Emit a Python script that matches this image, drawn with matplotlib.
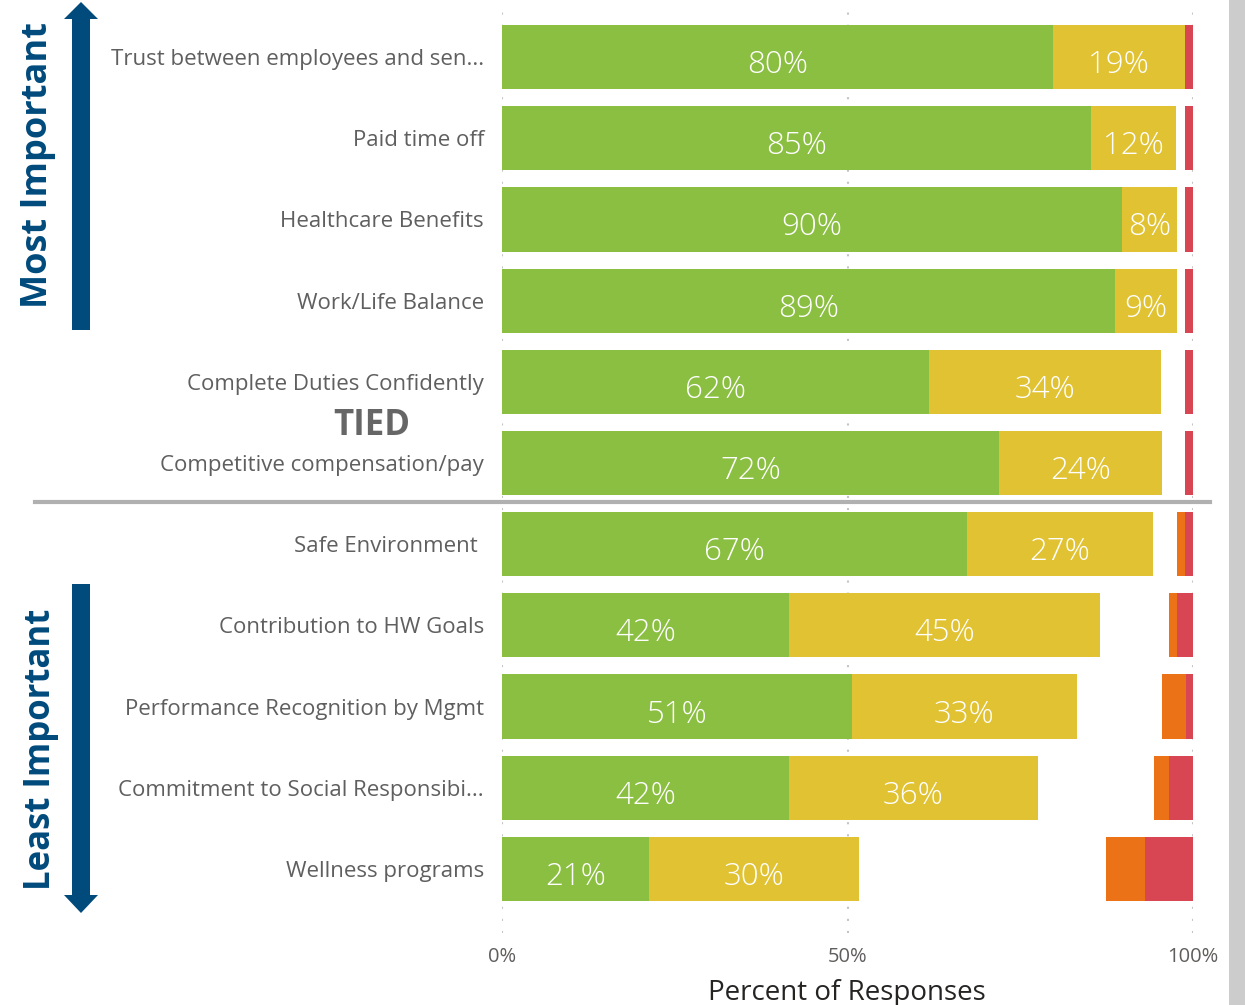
import numpy as np
import matplotlib
matplotlib.use("Agg")
import matplotlib.pyplot as plt
from matplotlib.patches import Polygon, Rectangle
from matplotlib.lines import Line2D

# survey items, most important at the top
categories = ['Trust between employees and sen...', 'Paid time off', 'Healthcare Benefits',
              'Work/Life Balance', 'Complete Duties Confidently', 'Competitive compensation/pay',
              'Safe Environment ', 'Contribution to HW Goals', 'Performance Recognition by Mgmt',
              'Commitment to Social Responsibi...', 'Wellness programs']

# percent of responses per rating (neutral share is left blank)
very_important = [79.7, 85.2, 89.7, 88.7, 61.8, 71.9, 67.3, 41.6, 50.6, 41.6, 21.3]
important      = [19.1, 12.4, 8.0, 9.0, 33.6, 23.6, 26.9, 44.9, 32.6, 35.9, 30.4]
neutral        = [0.0, 1.2, 1.1, 1.1, 3.4, 3.3, 3.5, 10.0, 12.3, 16.8, 35.7]
unimportant    = [0.0, 0.0, 0.0, 0.0, 0.0, 0.0, 1.2, 1.2, 3.5, 2.2, 5.6]
not_important  = [1.2, 1.2, 1.2, 1.2, 1.2, 1.2, 1.1, 2.3, 1.0, 3.5, 7.0]

tick_vals = [0, 50, 100]
tick_labels = ['0%', '50%', '100%']

c_green = '#8BBF42'
c_yellow = '#E0C232'
c_orange = '#EC7218'
c_red = '#D94653'
c_blue = '#004A7C'
c_label = '#5F5F5F'

W, H = 1245, 1005
fig = plt.figure(figsize=(W / 100, H / 100), dpi=100)

# overlay in pixel units for arrows and free text
ov = fig.add_axes([0, 0, 1, 1], zorder=0)
ov.set_xlim(0, W)
ov.set_ylim(H, 0)
ov.axis('off')

ax = fig.add_axes([502 / W, 1 - 933 / H, (1193 - 502) / W, (933 - 10) / H], zorder=1)
ax.patch.set_alpha(0)

y = np.arange(len(categories))
g = np.array(very_important)
yl = np.array(important)
n = np.array(neutral)
o = np.array(unimportant)
r = np.array(not_important)

bh = 0.79
ax.barh(y, g, height=bh, color=c_green, zorder=2)
ax.barh(y, yl, left=g, height=bh, color=c_yellow, zorder=2)
ax.barh(y, o, left=g + yl + n, height=bh, color=c_orange, zorder=2)
ax.barh(y, r, left=g + yl + n + o, height=bh, color=c_red, zorder=2)

lab_font = dict(family=['Open Sans', 'DejaVu Sans'], weight='light', color='white', fontsize=22.5)
for i in range(len(categories)):
    ax.text(g[i] / 2, y[i] + 0.05, '%d%%' % round(g[i]), ha='center', va='center_baseline',
            zorder=3, **lab_font)
    ax.text(g[i] + yl[i] / 2, y[i] + 0.05, '%d%%' % round(yl[i]), ha='center', va='center_baseline',
            zorder=3, **lab_font)

for xv in tick_vals:
    ax.axvline(xv, color='#C4C4C4', lw=1.5, ls=(0, (1, 4.8)), zorder=1)

ax.set_xlim(0, 100)
ax.set_ylim(10.79, -0.58)
ax.set_yticks(y)
ax.set_yticklabels(categories, fontsize=16, color=c_label, family=['Open Sans', 'DejaVu Sans'])
ax.set_xticks(tick_vals)
ax.set_xticklabels(tick_labels, fontsize=14.5, color='#605E5C',
                   family=['Liberation Sans Narrow', 'Open Sans', 'DejaVu Sans'])
ax.tick_params(axis='y', length=0, pad=13)
ax.tick_params(axis='x', length=0, pad=10)
for s in ax.spines.values():
    s.set_visible(False)

ov.text(847, 993, 'Percent of Responses', ha='center', va='center', fontsize=20, color='#252423',
        family=['Liberation Sans Narrow', 'Open Sans', 'DejaVu Sans'])

# split between top and bottom groups
ov.add_line(Line2D([35, 1210], [502, 502], color='#B0B0B0', lw=3))
ov.text(372, 426, 'TIED', ha='center', va='center', fontsize=25, fontweight='bold', color='#666666',
        family=['Open Sans', 'DejaVu Sans'])

# direction arrows
up = [(72, 330), (90, 330), (90, 19), (98, 19), (81, 2), (64, 19), (72, 19)]
down = [(72, 584), (90, 584), (90, 895), (98, 895), (81, 913), (64, 895), (72, 895)]
ov.add_patch(Polygon(up, closed=True, color=c_blue, lw=0))
ov.add_patch(Polygon(down, closed=True, color=c_blue, lw=0))
ov.text(38, 165, 'Most Important', rotation=90, ha='center', va='center', fontsize=26,
        fontweight='bold', color=c_blue, family=['Open Sans', 'DejaVu Sans'])
ov.text(41, 749, 'Least Important', rotation=90, ha='center', va='center', fontsize=25,
        fontweight='bold', color=c_blue, family=['Open Sans', 'DejaVu Sans'])

# gray strip on the right edge
ov.add_patch(Rectangle((1229, 0), 16, H, color='#CCCCCC', lw=0))

fig.savefig('out.png', dpi=100)
